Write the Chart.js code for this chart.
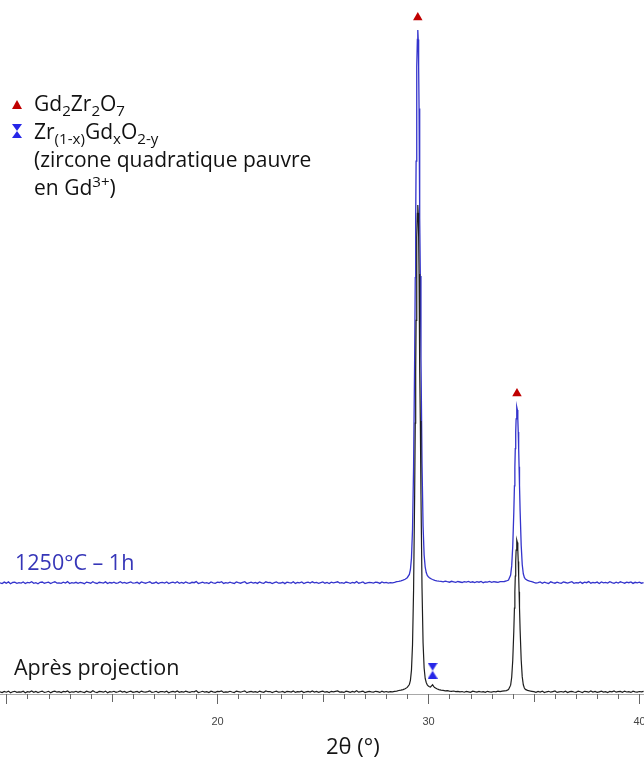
<!DOCTYPE html>
<html lang="fr">
<head>
<meta charset="utf-8">
<title>DRX Gd2Zr2O7</title>
<script src="https://cdn.jsdelivr.net/npm/chart.js@4.4.1/dist/chart.umd.min.js"></script>
<style>
	html, body { margin: 0; padding: 0; background: #fff; }
	#wrap { position: relative; width: 644px; height: 760px; overflow: hidden; }
	#wrap canvas { position: absolute; left: 0; top: 0; }
	.txt { position: absolute; font-family: "Open Sans", sans-serif; white-space: nowrap; }
	.txt sub, .txt sup { font-size: 0.72em; line-height: 0; }
	#legend { left: 34px; top: 89px; font-size: 21px; line-height: 28px; color: #111; }
	#lblBlue { left: 15px; top: 547px; font-size: 21.5px; line-height: 30px; color: #3636b8; }
	#lblBlack { left: 14px; top: 652px; font-size: 21.5px; line-height: 30px; color: #151515; }
	#xTitle { left: 326px; top: 730px; font-size: 22px; line-height: 30px; color: #151515; }
	.tri { position: absolute; width: 0; height: 0; border-left: 5px solid transparent; border-right: 5px solid transparent; }
</style>
</head>
<body>
<div id="wrap">
	<canvas id="chart"></canvas>
	<div class="tri" style="left:12px; top:100px; border-bottom:9px solid #c00000;"></div>
	<div class="tri" style="left:12px; top:124px; border-top:7px solid #2626e8;"></div>
	<div class="tri" style="left:12px; top:131px; border-bottom:7px solid #2626e8;"></div>
	<div id="legend" class="txt">Gd<sub>2</sub>Zr<sub>2</sub>O<sub>7</sub><br>Zr<sub>(1-x)</sub>Gd<sub>x</sub>O<sub>2-y</sub><br>(zircone quadratique pauvre<br>en Gd<sup>3+</sup>)</div>
	<div id="lblBlue" class="txt">1250°C – 1h</div>
	<div id="lblBlack" class="txt">Après projection</div>
	<div id="xTitle" class="txt">2θ (°)</div>
</div>
<script>
// 2theta (deg)
var twoTheta = [
	9.7,9.8,9.9,
	10,10.1,10.2,10.3,10.4,10.5,10.6,10.7,10.8,10.9,
	11,11.1,11.2,11.3,11.4,11.5,11.6,11.7,11.8,11.9,
	12,12.1,12.2,12.3,12.4,12.5,12.6,12.7,12.8,12.9,
	13,13.1,13.2,13.3,13.4,13.5,13.6,13.7,13.8,13.9,
	14,14.1,14.2,14.3,14.4,14.5,14.6,14.7,14.8,14.9,
	15,15.1,15.2,15.3,15.4,15.5,15.6,15.7,15.8,15.9,
	16,16.1,16.2,16.3,16.4,16.5,16.6,16.7,16.8,16.9,
	17,17.1,17.2,17.3,17.4,17.5,17.6,17.7,17.8,17.9,
	18,18.1,18.2,18.3,18.4,18.5,18.6,18.7,18.8,18.9,
	19,19.1,19.2,19.3,19.4,19.5,19.6,19.7,19.8,19.9,
	20,20.1,20.2,20.3,20.4,20.5,20.6,20.7,20.8,20.9,
	21,21.1,21.2,21.3,21.4,21.5,21.6,21.7,21.8,21.9,
	22,22.1,22.2,22.3,22.4,22.5,22.6,22.7,22.8,22.9,
	23,23.1,23.2,23.3,23.4,23.5,23.6,23.7,23.8,23.9,
	24,24.1,24.2,24.3,24.4,24.5,24.6,24.7,24.8,24.9,
	25,25.1,25.2,25.3,25.4,25.5,25.6,25.7,25.8,25.9,
	26,26.1,26.2,26.3,26.4,26.5,26.6,26.7,26.8,26.9,
	27,27.1,27.2,27.3,27.4,27.5,27.6,27.7,27.8,27.9,
	28,28.1,28.2,28.3,28.4,
	28.5,28.6,28.7,28.8,28.9,29,29.1,29.15,29.2,29.25,29.3,29.35,29.38,
	29.4,29.42,29.44,29.46,29.48,29.5,29.52,29.54,29.56,29.58,29.6,29.62,
	29.65,29.7,29.75,29.8,29.85,29.9,29.95,30,30.05,30.1,30.15,30.2,30.25,30.3,30.4,30.5,
	30.6,30.7,30.8,30.9,
	31,31.1,31.2,31.3,31.4,31.5,31.6,31.7,31.8,31.9,
	32,32.1,32.2,32.3,32.4,32.5,32.6,32.7,32.8,32.9,
	33,33.1,33.2,33.3,33.4,
	33.5,33.6,33.7,33.8,33.9,33.95,34,34.05,34.08,
	34.1,34.12,34.14,34.16,34.18,34.2,34.22,34.24,34.26,34.28,34.3,34.32,
	34.35,34.4,34.45,34.5,34.55,34.6,34.7,34.8,34.9,
	35,35.1,35.2,35.3,35.4,35.5,35.6,35.7,35.8,35.9,
	36,36.1,36.2,36.3,36.4,36.5,36.6,36.7,36.8,36.9,
	37,37.1,37.2,37.3,37.4,37.5,37.6,37.7,37.8,37.9,
	38,38.1,38.2,38.3,38.4,38.5,38.6,38.7,38.8,38.9,
	39,39.1,39.2,39.3,39.4,39.5,39.6,39.7,39.8,39.9,
	40,40.1,40.2
];

// intensite (u.a.) - echantillon apres projection
var apresProjection = [
	2.1,1.4,2.6,1.8,2.9,1.2,2.3,2.7,1.6,2.2,
	1.9,2.8,1.3,2.4,2.0,3.1,1.7,2.5,1.5,2.2,
	2.9,1.6,2.0,2.7,1.3,2.4,2.8,1.8,2.3,1.5,
	2.6,2.1,3.0,1.4,2.2,1.9,2.7,1.6,2.5,2.0,
	1.4,2.8,2.2,1.7,3.2,2.0,1.5,2.6,2.3,1.8,
	2.9,1.3,2.4,2.0,2.7,1.6,2.2,3.0,1.9,2.5,
	1.5,2.3,2.8,1.7,2.1,2.6,1.4,2.9,2.2,1.8,
	2.4,3.1,1.6,2.0,2.7,1.5,2.3,2.5,1.9,2.8,
	1.3,2.2,2.6,2.0,3.0,1.7,2.4,1.8,2.9,2.1,
	1.6,2.5,2.2,3.2,1.5,2.0,2.7,1.9,2.3,1.4,
	2.8,2.1,1.7,2.6,2.4,3.0,1.6,2.2,1.9,2.7,
	2.0,1.5,2.9,2.3,1.8,2.5,3.1,1.4,2.2,2.6,
	1.9,2.4,1.6,2.8,2.1,1.7,3.0,2.3,2.5,1.5,
	2.2,2.9,1.8,2.0,2.6,1.4,2.7,2.3,1.9,3.1,
	1.6,2.4,2.1,2.8,1.5,2.2,2.6,1.9,3.0,2.0,
	2.5,1.7,2.3,2.9,1.8,2.4,1.5,2.7,2.1,2.6,
	3.0,1.9,2.2,1.6,2.8,2.4,1.7,2.5,2.0,3.2,
	1.8,2.3,2.9,1.5,2.1,2.6,2.2,1.9,2.7,2.4,
	1.6,2.8,2.0,2.5,1.9,2.3,2.1,2.6,
	2.9,3.5,3.9,4.4,5.3,6.6,9.5,13.7,23.9,49.2,103.8,197.8,270.8,
	322.4,373.6,419.4,456.4,480.7,489,481,457,420,375,324,273,
	200,106,51,26,15.5,11.5,9,8,7.2,7,8.2,9.2,7.6,6.4,5.2,4.4,
	3.9,3.6,3.2,3.4,2.9,2.6,3.0,2.4,2.7,2.1,2.5,1.8,2.6,2.2,1.7,
	2.8,2.3,1.9,2.6,2.0,2.4,1.6,2.7,2.2,1.9,2.5,2.1,2.8,2.3,
	2.8,3.1,3.4,4.4,8.8,16.7,33.8,63.1,85.9,
	102,118,132.3,143.8,151.4,154,151.5,144,132.5,118.3,102.3,86.2,
	63.5,34.2,17.1,9.2,6.0,4.6,3.6,3.1,2.7,
	2.3,1.7,2.6,2.0,2.9,1.5,2.2,2.7,1.8,2.4,
	3.0,1.6,2.1,2.5,1.9,2.8,1.4,2.3,2.6,2.0,
	1.7,2.9,2.2,1.5,2.7,2.4,1.8,3.1,2.0,2.5,
	1.6,2.2,2.8,1.9,2.4,1.5,2.7,2.1,3.0,1.8,
	2.3,2.6,1.7,2.9,2.0,2.4,1.6,2.8,2.2,1.9,
	2.5,2.1,2.7
];

// intensite (u.a.) - apres recuit 1250 C 1h (decalee)
var recuit1250 = [
	111.2,110.4,111.9,110.8,112.1,110.3,111.5,111.8,110.6,111.3,
	110.9,112.0,110.5,111.6,111.1,112.3,110.7,111.4,110.2,111.7,
	112.0,110.8,111.3,111.9,110.4,111.5,112.2,110.9,111.2,110.6,
	111.8,111.0,112.4,110.5,111.3,110.9,111.7,110.6,111.5,111.1,
	110.3,111.9,111.4,110.8,112.2,111.0,110.5,111.7,111.3,110.9,
	112.1,110.4,111.5,111.0,111.8,110.7,111.2,112.3,110.9,111.6,
	110.6,111.3,112.0,110.8,111.1,111.7,110.4,112.1,111.3,110.8,
	111.5,112.2,110.7,111.0,111.9,110.5,111.4,111.6,110.9,112.0,
	110.4,111.3,111.8,111.0,112.2,110.7,111.5,110.8,112.1,111.2,
	110.6,111.7,111.3,112.4,110.5,111.1,111.9,110.9,111.4,110.4,
	112.0,111.2,110.7,111.8,111.5,112.3,110.6,111.3,110.9,111.9,
	111.0,110.5,112.1,111.4,110.8,111.6,112.3,110.4,111.2,111.8,
	110.9,111.5,110.6,112.0,111.1,110.7,112.2,111.4,111.6,110.5,
	111.3,112.1,110.8,111.0,111.7,110.4,111.9,111.3,110.9,112.3,
	110.6,111.5,111.2,112.0,110.5,111.3,111.8,110.9,112.2,111.1,
	111.6,110.7,111.4,112.1,110.8,111.5,110.5,111.9,111.2,111.7,
	112.2,110.9,111.3,110.6,112.0,111.5,110.7,111.6,111.0,112.4,
	110.8,111.4,112.1,110.5,111.2,111.7,111.3,110.9,111.8,111.5,
	110.6,112.0,111.1,111.6,110.9,111.4,111.2,111.7,
	112.4,112.7,113.2,113.8,114.7,116.3,119.6,124.3,135.9,164.6,226.6,333.3,416.3,
	474.9,532.9,584.9,626.9,654.6,664,654.6,627,585.5,534,476,418,
	336,230,168,139,127,121.5,118.5,117.3,116.3,115.6,115.0,114.5,114.1,113.7,113.2,112.8,
	112.6,112.1,112.9,112.3,111.8,112.7,112.2,111.6,112.5,112.0,111.5,112.4,111.9,112.6,111.7,
	112.2,111.4,112.3,111.8,112.5,111.3,112.1,111.9,112.6,111.6,112.3,112.0,111.7,112.4,
	112.3,112.5,113.0,113.9,118.9,128.1,147.8,181.8,208.2,
	226.8,245.3,261.8,275.2,284,287,284,275.3,262,245.6,227.2,208.7,
	182.5,148.8,129.3,120.2,116.6,115.0,113.7,112.9,112.4,
	111.6,110.9,111.3,112.0,110.7,111.8,111.1,110.5,112.2,111.4,
	110.8,111.9,111.2,110.6,112.1,111.5,110.9,111.7,112.3,110.7,
	111.4,111.0,112.0,110.6,111.8,111.3,112.4,110.8,111.5,111.1,
	111.9,110.5,112.1,111.2,111.6,110.9,112.3,111.4,110.7,111.8,
	111.0,112.2,111.5,110.8,111.9,111.3,112.1,110.6,111.7,111.2,
	111.9,110.8,111.4
];

// reperes de phases
var pyrochloreX = [29.5, 34.2];      // Gd2Zr2O7
var pyrochloreY = [676.5, 300.5];
var quadratiqueX = [30.2];           // Zr(1-x)GdxO2-y
var quadratiqueY = [23.3];

var tickLabels = [20, 30, 40];

function pairs(xs, ys) {
	return xs.map(function (x, i) { return { x: x, y: ys[i] }; });
}

// sablier bleu
var hourglass = document.createElement('canvas');
hourglass.width = 10;
hourglass.height = 16;
(function () {
	var g = hourglass.getContext('2d');
	g.fillStyle = '#2626e8';
	g.beginPath();
	g.moveTo(0, 0); g.lineTo(10, 0); g.lineTo(5, 8); g.closePath();
	g.moveTo(0, 16); g.lineTo(10, 16); g.lineTo(5, 8); g.closePath();
	g.fill();
})();

var axisTicks = {
	id: 'axisTicks',
	afterDraw: function (chart) {
		var sx = chart.scales.x;
		var ctx = chart.ctx;
		var y0 = chart.chartArea.bottom;
		ctx.save();
		ctx.strokeStyle = '#666';
		ctx.lineWidth = 1;
		ctx.fillStyle = '#444';
		ctx.font = '11px "Liberation Sans", Arial, sans-serif';
		ctx.textAlign = 'center';
		ctx.textBaseline = 'middle';
		for (var v = Math.ceil(sx.min); v <= Math.floor(sx.max); v++) {
			var px = Math.round(sx.getPixelForValue(v)) + 0.5;
			var len = v % 10 === 0 ? 10 : (v % 5 === 0 ? 8 : 5);
			ctx.beginPath();
			ctx.moveTo(px, y0);
			ctx.lineTo(px, y0 + len);
			ctx.stroke();
			if (tickLabels.indexOf(v) >= 0) {
				ctx.fillText(String(v), px, y0 + 28);
			}
		}
		ctx.restore();
	}
};

new Chart(document.getElementById('chart'), {
	type: 'line',
	data: {
		datasets: [
			{
				type: 'scatter',
				data: pairs(quadratiqueX, quadratiqueY),
				pointStyle: hourglass,
				pointRadius: 8,
				showLine: false
			},
			{
				type: 'scatter',
				data: pairs(pyrochloreX, pyrochloreY),
				pointStyle: 'triangle',
				pointRadius: 5.5,
				backgroundColor: '#c00000',
				borderWidth: 0,
				showLine: false
			},
			{
				label: 'Après projection',
				data: pairs(twoTheta, apresProjection),
				borderColor: '#1e1e1e',
				borderWidth: 1.2,
				pointRadius: 0,
				tension: 0
			},
			{
				label: '1250°C – 1h',
				data: pairs(twoTheta, recuit1250),
				borderColor: '#3434cc',
				borderWidth: 1.3,
				pointRadius: 0,
				tension: 0
			}
		]
	},
	options: {
		responsive: true,
		maintainAspectRatio: false,
		animation: false,
		events: [],
		clip: false,
		layout: { autoPadding: false, padding: { left: 0, right: 0, top: 0, bottom: 66 } },
		plugins: {
			legend: { display: false },
			tooltip: { enabled: false }
		},
		scales: {
			x: {
				type: 'linear',
				min: 9.7,
				max: 40.22,
				grid: { display: false, drawTicks: false },
				border: { display: true, color: '#a8a8a8', width: 1 },
				ticks: { display: false, stepSize: 1, includeBounds: false }
			},
			y: {
				display: false,
				min: 0,
				max: 694
			}
		}
	},
	plugins: [axisTicks]
});
</script>
</body>
</html>
